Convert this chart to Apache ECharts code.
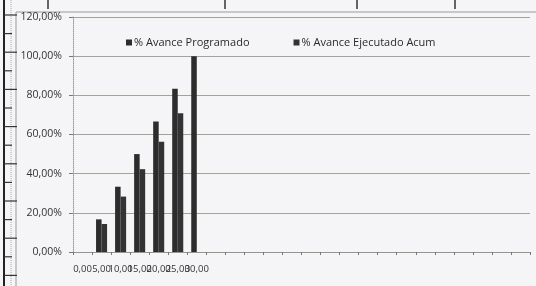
<!DOCTYPE html>
<html>
<head>
<meta charset="utf-8">
<script src="https://cdn.jsdelivr.net/npm/echarts@6/dist/echarts.min.js"></script>
<style>
html, body { margin: 0; padding: 0; background: #f5f5f7; }
#chart { width: 536px; height: 286px; }
</style>
</head>
<body>
<div id="chart"></div>
<script>
// etiquetas del eje X (solo las primeras tienen texto)
var xLabels = ['0,00', '5,00', '10,00', '15,00', '20,00', '25,00', '30,00',
  '', '', '', '', '', '', '', '', '', '', '', '', '', '', '', '', ''];
var seriesNames = ['% Avance Programado', '% Avance Ejecutado Acum'];
var programado = [0, 16.67, 33.33, 50, 66.67, 83.33, 100];
var ejecutado = [0, 14.3, 28.3, 42.3, 56.3, 70.8];
var yTicks = [0, 20, 40, 60, 80, 100, 120];

var chart = echarts.init(document.getElementById('chart'));

// marcas del escaneo (regla y bordes de la hoja)
var deco = [
  { type: 'line', shape: { x1: 4, y1: 0, x2: 4, y2: 286 }, style: { stroke: '#222', lineWidth: 2 } },
  { type: 'line', shape: { x1: 16, y1: 12, x2: 536, y2: 12 }, style: { stroke: '#9a9a9a', lineWidth: 1 } },
  { type: 'line', shape: { x1: 16, y1: 12, x2: 16, y2: 286 }, style: { stroke: '#9a9a9a', lineWidth: 1 } },
  { type: 'line', shape: { x1: 11, y1: 0, x2: 11, y2: 286 }, style: { stroke: '#aaa', lineWidth: 1, lineDash: [1, 1] } }
];
[48, 225, 357, 455].forEach(function (x) {
  deco.push({ type: 'line', shape: { x1: x, y1: 0, x2: x, y2: 9 }, style: { stroke: '#333', lineWidth: 1.5 } });
});
for (var i = 0; i < 16; i++) {
  var y = 15 + i * 18.6;
  deco.push({ type: 'line', shape: { x1: 4, y1: y, x2: i % 2 ? 12 : 17, y2: y }, style: { stroke: '#333', lineWidth: 1.2 } });
}

var option = {
  backgroundColor: '#f5f5f7',
  animation: false,
  graphic: deco,
  legend: {
    data: seriesNames,
    left: 121,
    top: 32,
    itemWidth: 6,
    itemHeight: 6,
    itemGap: 44,
    icon: 'rect',
    textStyle: { fontFamily: 'Open Sans', fontSize: 11, color: '#2a2a2a', padding: [0, 0, 0, -3] }
  },
  grid: { left: 73, right: 6, top: 17, bottom: 34 },
  xAxis: {
    type: 'category',
    data: xLabels,
    axisLine: { lineStyle: { color: '#9a948c' } },
    axisTick: { show: true, length: 3, interval: 0, lineStyle: { color: '#777' } },
    axisLabel: {
      interval: 0,
      margin: 12,
      fontFamily: 'Open Sans',
      fontSize: 9.5,
      color: '#333'
    }
  },
  yAxis: {
    type: 'value',
    min: yTicks[0],
    max: yTicks[yTicks.length - 1],
    interval: 20,
    axisLine: { show: true, lineStyle: { color: '#9a9a9a', type: 'dotted' } },
    axisTick: { show: true, length: 4, lineStyle: { color: '#777' } },
    splitLine: { lineStyle: { color: '#a8a199', width: 1 } },
    axisLabel: {
      margin: 11,
      fontFamily: 'Open Sans',
      fontSize: 10.5,
      color: '#333',
      formatter: function (v) { return v.toFixed(2).replace('.', ',') + '%'; }
    }
  },
  series: [
    {
      name: seriesNames[0],
      type: 'bar',
      data: programado,
      barGap: '0%',
      barCategoryGap: '42%',
      itemStyle: { color: '#2c2c2c' }
    },
    {
      name: seriesNames[1],
      type: 'bar',
      data: ejecutado,
      itemStyle: { color: '#333333' }
    }
  ]
};
chart.setOption(option);
</script>
</body>
</html>
